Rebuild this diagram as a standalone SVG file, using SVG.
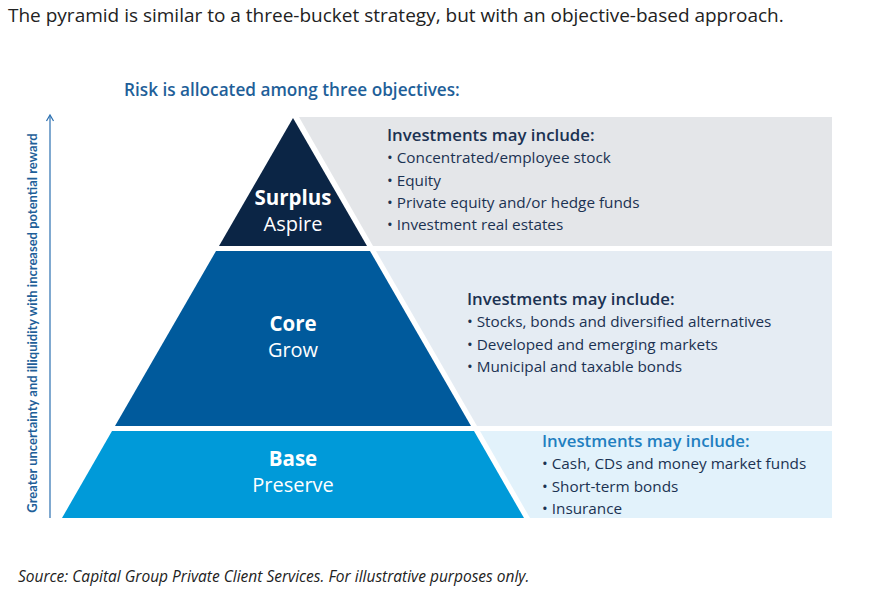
<svg xmlns="http://www.w3.org/2000/svg" width="892" height="595" viewBox="0 0 892 595">
<style>
text{font-family:"Open Sans","Liberation Sans",sans-serif}
.h{font-size:16.8px;font-weight:600;fill:#1b3252}
.b{font-size:15.3px;fill:#1b3252}
.lb{font-size:20.5px;font-weight:bold;fill:#fff}
.ls{font-size:20px;fill:#fff}
</style>
<rect width="892" height="595" fill="#fff"/>
<text x="8" y="22" style="font-size:19px;fill:#222">The pyramid is similar to a three-bucket strategy, but with an objective-based approach.</text>
<text x="124" y="96" style="font-size:17.2px;font-weight:600;fill:#1f5f99">Risk is allocated among three objectives:</text>
<g id="axis">
<line x1="50" y1="518" x2="50" y2="116" stroke="#2a6fb0" stroke-width="1.2"/>
<path d="M46.5,121 L50,115 L53.5,121" fill="none" stroke="#2a6fb0" stroke-width="1.2"/>
<text transform="translate(37,323) rotate(-90)" text-anchor="middle" style="font-family:Lato,'Liberation Sans',sans-serif;font-size:13px;font-weight:bold;fill:#1f5f99">Greater uncertainty and illiquidity with increased potential reward</text>
</g>
<g id="box-surplus"><polygon points="299,117 832,117 832,246 373,246" fill="#e4e6e9"/>
<text x="387" y="141" class="h">Investments may include:</text>
<text x="387" y="163" class="b">• Concentrated/employee stock</text>
<text x="387" y="186" class="b">• Equity</text>
<text x="387" y="208" class="b">• Private equity and/or hedge funds</text>
<text x="387" y="230" class="b">• Investment real estates</text></g>
<g id="box-core"><polygon points="376,251 832,251 832,426 477,426" fill="#e5ecf3"/>
<text x="467" y="305" class="h">Investments may include:</text>
<text x="467" y="327" class="b">• Stocks, bonds and diversified alternatives</text>
<text x="467" y="350" class="b">• Developed and emerging markets</text>
<text x="467" y="372" class="b">• Municipal and taxable bonds</text></g>
<g id="box-base"><polygon points="480,431 832,431 832,518 530,518" fill="#e2f2fb"/>
<text x="542" y="447" class="h" style="fill:#1f7fc0">Investments may include:</text>
<text x="542" y="469" class="b">• Cash, CDs and money market funds</text>
<text x="542" y="492" class="b">• Short-term bonds</text>
<text x="542" y="514" class="b">• Insurance</text></g>
<g id="surplus"><polygon points="293,118 367,246 219,246" fill="#0b2545"/>
<text x="293" y="205" text-anchor="middle" class="lb">Surplus</text>
<text x="293" y="231" text-anchor="middle" class="ls">Aspire</text></g>
<g id="core"><polygon points="216,251 370,251 471,426 115,426" fill="#005a9c"/>
<text x="293" y="331" text-anchor="middle" class="lb">Core</text>
<text x="293" y="357" text-anchor="middle" class="ls">Grow</text></g>
<g id="base"><polygon points="112,431 474,431 524,518 62,518" fill="#009ad9"/>
<text x="293" y="466" text-anchor="middle" class="lb">Base</text>
<text x="293" y="492" text-anchor="middle" class="ls">Preserve</text></g>
<text x="18" y="582" style="font-size:15.5px;font-style:italic;fill:#222">Source: Capital Group Private Client Services. For illustrative purposes only.</text>
</svg>
